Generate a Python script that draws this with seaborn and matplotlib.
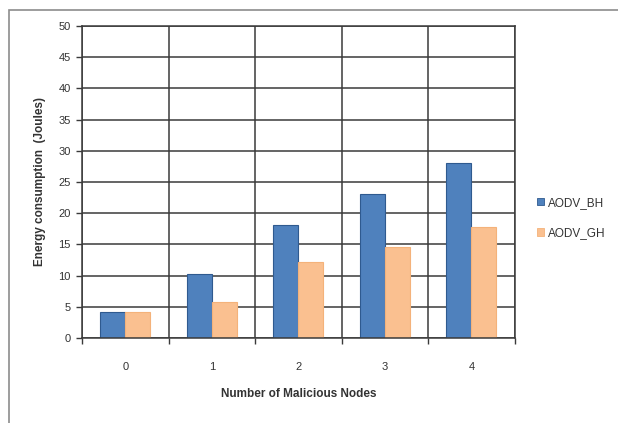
import matplotlib
matplotlib.use("Agg")
import matplotlib.pyplot as plt
from matplotlib.patches import Rectangle
import numpy as np
import pandas as pd
import seaborn as sns

# Energy consumption per number of malicious nodes
nodes = ["0", "1", "2", "3", "4"]
aodv_bh = [4.1, 10.3, 18.1, 23.1, 28.1]
aodv_gh = [4.1, 5.7, 12.2, 14.6, 17.8]
series_names = ["AODV_BH", "AODV_GH"]
y_ticks = [0, 5, 10, 15, 20, 25, 30, 35, 40, 45, 50]

df = pd.DataFrame({
    "nodes": nodes * 2,
    "energy": aodv_bh + aodv_gh,
    "series": [series_names[0]] * len(nodes) + [series_names[1]] * len(nodes),
})

sns.set_theme(style="white")
plt.rcParams["font.family"] = ["Liberation Sans", "DejaVu Sans"]

fig = plt.figure(figsize=(6.18, 4.23), dpi=100)
ax = fig.add_axes([0.1327, 0.201, 0.700, 0.7375])

face = {"AODV_BH": "#4F81BD", "AODV_GH": "#FAC090"}
sns.barplot(data=df, x="nodes", y="energy", hue="series", order=nodes,
            hue_order=series_names, palette=face, width=0.58, ax=ax,
            saturation=1, legend=False)

edges = {"AODV_BH": "#2F5A8F", "AODV_GH": "#F4B27A"}
for cont, name in zip(ax.containers, series_names):
    for bar in cont:
        bar.set_edgecolor(edges[name])
        bar.set_linewidth(0.8)

grid_c = "#3a3a3a"
ax.set_xlim(-0.5, len(nodes) - 0.5)
ax.set_ylim(0, 50)
ax.set_yticks(y_ticks)
ax.set_xticks(np.arange(len(nodes)))
ax.set_xticklabels(nodes)
ax.set_xticks(np.arange(len(nodes) + 1) - 0.5, minor=True)
ax.set_axisbelow(True)
ax.grid(axis="y", which="major", color=grid_c, linewidth=1.1)
ax.grid(axis="x", which="minor", color=grid_c, linewidth=1.1)
ax.grid(axis="x", which="major", visible=False)
for s in ax.spines.values():
    s.set_color(grid_c)
    s.set_linewidth(1.1)
    s.set_visible(True)

ax.tick_params(axis="y", which="major", direction="out", length=4, width=1,
               color=grid_c, labelsize=8, labelcolor="#333333", pad=4, left=True)
ax.tick_params(axis="x", which="major", length=0, labelsize=8,
               labelcolor="#333333", pad=17)
ax.tick_params(axis="x", which="minor", direction="out", length=4, width=1,
               color=grid_c, bottom=True)

ax.set_xlabel("Number of Malicious Nodes", fontsize=8.5, fontweight="bold",
              color="#333333", labelpad=12)
ax.set_ylabel("Energy consumption  (Joules)", fontsize=8.5, fontweight="bold",
              color="#333333", labelpad=9)

# legend on the right
handles = [Rectangle((0, 0), 1, 1, facecolor=face[n], edgecolor=edges[n], linewidth=0.6)
           for n in series_names]
fig.legend(handles, series_names, loc="center left",
           bbox_to_anchor=(0.852, 0.485), frameon=False, fontsize=8.5,
           handlelength=0.6, handleheight=0.6, handletextpad=0.35,
           labelspacing=1.55, labelcolor="#333333")

# outer chart-area frame
fig.patches.append(Rectangle((0.0145, -0.1), 1.2, 0.1 + 0.976, transform=fig.transFigure,
                             fill=False, edgecolor="#8c8c8c", linewidth=1.2,
                             clip_on=False))

fig.savefig("out.png", dpi=100)
